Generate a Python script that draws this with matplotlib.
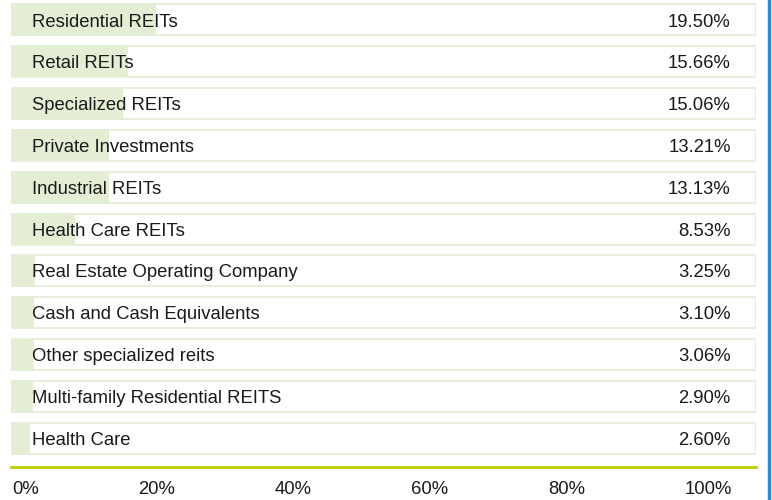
import matplotlib
matplotlib.use("Agg")
import matplotlib.pyplot as plt
from matplotlib.lines import Line2D
from matplotlib.transforms import Affine2D

# Data -----------
categories = ["Residential REITs", "Retail REITs", "Specialized REITs", "Private Investments",
              "Industrial REITs", "Health Care REITs", "Real Estate Operating Company",
              "Cash and Cash Equivalents", "Other specialized reits",
              "Multi-family Residential REITS", "Health Care"]
weights = [19.50, 15.66, 15.06, 13.21, 13.13, 8.53, 3.25, 3.10, 3.06, 2.90, 2.60]
tick_labels = ["0%", "20%", "40%", "60%", "80%", "100%"]

plt.rcParams['font.family'] = ['Liberation Sans', 'DejaVu Sans']
FS = 13.3

W, H = 772, 500
fig = plt.figure(figsize=(W / 100, H / 100), dpi=100)

# main axes: 11px -> 756px wide, green line at 467px from top
ax = fig.add_axes([11 / W, 33 / H, 745 / W, 467 / H])
pitch = 41.8
ax.set_xlim(0, 100)
ax.set_ylim((467 - 20) / pitch, -20 / pitch)

ypos = list(range(len(categories)))
bh = 31 / pitch
ax.barh(ypos, [100] * len(ypos), height=bh, color="white", edgecolor="#e6efdc", linewidth=1.5, zorder=1)
ax.barh(ypos, weights, height=bh, color="#e3eed5", edgecolor="none", zorder=2)

for y, name, w in zip(ypos, categories, weights):
    ax.text(2.8, y + 0.05, name, va="center", ha="left", fontsize=FS, color="#1a1a1a", zorder=3)
    ax.text(96.6, y + 0.05, f"{w:.2f}%", va="center", ha="right", fontsize=FS, color="#1a1a1a", zorder=3)

for s in ["top", "left", "right"]:
    ax.spines[s].set_visible(False)
ax.spines["bottom"].set_color("#b8d000")
ax.spines["bottom"].set_linewidth(2)
ax.set_xticks([])
ax.set_yticks([])
ax.patch.set_alpha(0)

# scale labels spread "space-between" from 12px to 732px (like the html legend)
px = Affine2D().scale(1 / W, 1 / H) + fig.transFigure
lbls = [fig.text(0, 11, t, transform=px, ha="left", va="center", fontsize=FS, color="#1a1a1a") for t in tick_labels]
fig.canvas.draw()
r = fig.canvas.get_renderer()
widths = [t.get_window_extent(r).width for t in lbls]
gap = (732 - 12 - sum(widths)) / (len(lbls) - 1)
x = 12
for t, w in zip(lbls, widths):
    t.set_x(x)
    x += w + gap

# blue rule on the right edge
fig.add_artist(Line2D([769 / W, 769 / W], [0, 1], color="#2a8ad6", linewidth=2.5, transform=fig.transFigure))

plt.savefig("out.png", dpi=100)
plt.close()
